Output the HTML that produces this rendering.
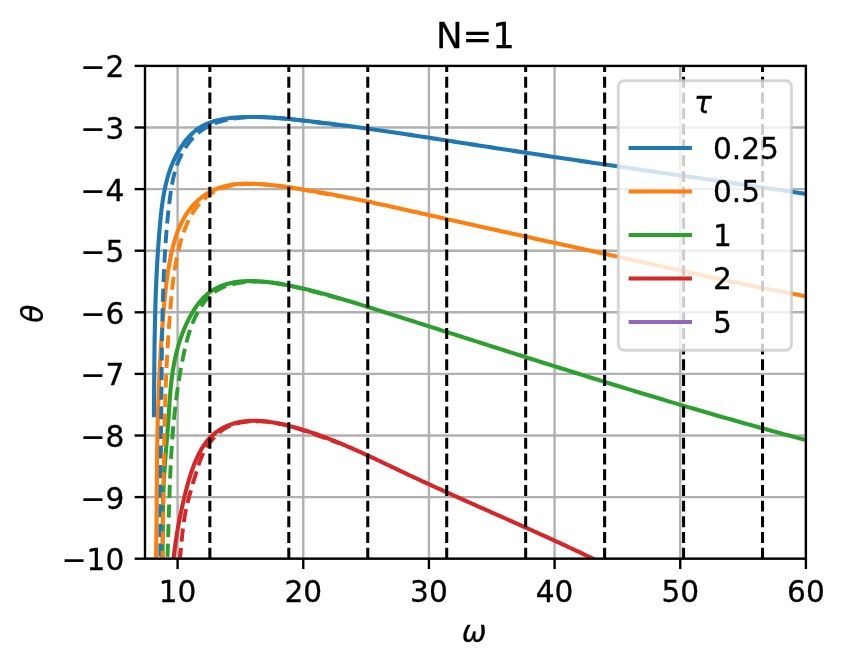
<!DOCTYPE html>
<html lang="en"><head><meta charset="utf-8"><title>N=1</title>
<style>html,body{margin:0;padding:0;background:#fff}svg{display:block}text{font-family:"DejaVu Sans","Liberation Sans",sans-serif;fill:#000;stroke:#000;stroke-width:0.3px}.t{font-size:29.63px}.tt{font-size:35.56px}.i{font-style:italic}</style></head><body>
<svg width="846" height="670" viewBox="0 0 846 670">
<rect width="846" height="670" fill="#fff"/>
<defs><clipPath id="ax"><rect x="145.0" y="65.9" width="660.90" height="492.80"/></clipPath></defs>
<g stroke="#b0b0b0" stroke-width="2.37" clip-path="url(#ax)">
<line x1="177.60" x2="177.60" y1="65.9" y2="558.7"/>
<line x1="303.26" x2="303.26" y1="65.9" y2="558.7"/>
<line x1="428.92" x2="428.92" y1="65.9" y2="558.7"/>
<line x1="554.58" x2="554.58" y1="65.9" y2="558.7"/>
<line x1="680.24" x2="680.24" y1="65.9" y2="558.7"/>
<line x1="805.90" x2="805.90" y1="65.9" y2="558.7"/>
<line x1="145.0" x2="805.9" y1="558.70" y2="558.70"/>
<line x1="145.0" x2="805.9" y1="497.10" y2="497.10"/>
<line x1="145.0" x2="805.9" y1="435.50" y2="435.50"/>
<line x1="145.0" x2="805.9" y1="373.90" y2="373.90"/>
<line x1="145.0" x2="805.9" y1="312.30" y2="312.30"/>
<line x1="145.0" x2="805.9" y1="250.70" y2="250.70"/>
<line x1="145.0" x2="805.9" y1="189.10" y2="189.10"/>
<line x1="145.0" x2="805.9" y1="127.50" y2="127.50"/>
<line x1="145.0" x2="805.9" y1="65.90" y2="65.90"/>
</g>
<g fill="none" stroke-width="4.10" stroke-linejoin="round" clip-path="url(#ax)">
<path stroke="#1f77b4" stroke-linecap="square" d="M153.93 415.25 L153.96 411.69 L153.99 408.12 L154.01 404.56 L154.04 400.99 L154.07 397.43 L154.09 393.88 L154.12 390.32 L154.14 386.76 L154.17 383.21 L154.19 379.66 L154.22 376.11 L154.25 372.56 L154.28 369.01 L154.31 365.46 L154.35 361.92 L154.39 358.37 L154.43 354.83 L154.47 351.29 L154.51 347.75 L154.56 344.21 L154.62 340.66 L154.67 337.13 L154.73 333.59 L154.80 330.05 L154.87 326.51 L154.94 322.97 L155.02 319.43 L155.11 315.90 L155.20 312.36 L155.29 308.82 L155.40 305.29 L155.51 301.75 L155.62 298.21 L155.74 294.67 L155.87 291.14 L156.01 287.60 L156.16 284.06 L156.31 280.52 L156.47 276.98 L156.64 273.44 L156.82 269.90 L157.01 266.36 L157.21 262.82 L157.41 259.28 L157.63 255.73 L157.86 252.19 L158.09 248.64 L158.34 245.09 L158.60 241.54 L158.87 237.99 L159.15 234.44 L159.44 230.89 L159.74 227.34 L160.06 223.78 L160.39 220.23 L160.74 216.67 L161.12 213.12 L161.53 209.57 L161.97 206.04 L162.45 202.51 L162.97 198.99 L163.55 195.49 L164.18 192.01 L164.88 188.54 L165.64 185.09 L166.47 181.66 L167.37 178.26 L168.36 174.89 L169.43 171.54 L170.59 168.23 L171.85 164.94 L173.21 161.69 L174.67 158.48 L176.25 155.31 L177.94 152.17 L179.75 149.09 L181.68 146.06 L183.74 143.12 L185.92 140.28 L188.23 137.55 L190.66 134.97 L193.23 132.54 L195.91 130.28 L198.73 128.22 L201.68 126.36 L204.76 124.74 L207.96 123.32 L211.25 122.10 L214.62 121.06 L218.06 120.17 L221.55 119.42 L225.07 118.80 L228.61 118.28 L232.16 117.87 L235.72 117.54 L239.30 117.29 L242.87 117.12 L246.45 117.02 L250.03 116.97 L253.60 116.98 L257.17 117.03 L260.73 117.12 L264.29 117.26 L267.83 117.42 L271.38 117.63 L274.92 117.86 L278.45 118.12 L281.98 118.40 L285.51 118.71 L289.04 119.04 L292.56 119.39 L296.08 119.75 L299.60 120.13 L303.12 120.51 L306.64 120.90 L310.15 121.30 L313.67 121.70 L317.19 122.12 L320.70 122.53 L324.22 122.96 L327.73 123.39 L331.25 123.82 L334.76 124.27 L338.28 124.71 L341.79 125.16 L345.31 125.62 L348.82 126.09 L352.33 126.55 L355.84 127.03 L359.36 127.50 L362.87 127.99 L366.38 128.47 L369.89 128.96 L373.40 129.46 L376.91 129.96 L380.42 130.46 L383.93 130.97 L387.44 131.48 L390.95 131.99 L394.46 132.50 L397.97 133.02 L401.48 133.55 L404.99 134.07 L408.50 134.60 L412.01 135.13 L415.52 135.66 L419.02 136.19 L422.53 136.73 L426.04 137.27 L429.55 137.81 L433.06 138.35 L436.56 138.89 L440.07 139.43 L443.58 139.98 L447.09 140.52 L450.59 141.07 L454.10 141.61 L457.61 142.16 L461.11 142.71 L464.62 143.26 L468.13 143.80 L471.63 144.35 L475.14 144.90 L478.65 145.44 L482.16 145.99 L485.66 146.53 L489.17 147.08 L492.68 147.62 L496.18 148.16 L499.69 148.70 L503.20 149.24 L506.71 149.78 L510.21 150.32 L513.72 150.85 L517.23 151.39 L520.73 151.92 L524.24 152.45 L527.75 152.99 L531.26 153.52 L534.77 154.05 L538.27 154.58 L541.78 155.10 L545.29 155.63 L548.80 156.16 L552.30 156.68 L555.81 157.21 L559.32 157.73 L562.83 158.25 L566.34 158.77 L569.84 159.30 L573.35 159.82 L576.86 160.34 L580.37 160.86 L583.88 161.37 L587.38 161.89 L590.89 162.41 L594.40 162.93 L597.91 163.44 L601.42 163.96 L604.93 164.47 L608.43 164.99 L611.94 165.50 L615.45 166.02 L618.96 166.53 L622.47 167.04 L625.98 167.56 L629.49 168.07 L633.00 168.58 L636.50 169.09 L640.01 169.60 L643.52 170.11 L647.03 170.62 L650.54 171.13 L654.05 171.64 L657.56 172.16 L661.07 172.67 L664.58 173.17 L668.09 173.68 L671.59 174.19 L675.10 174.70 L678.61 175.21 L682.12 175.72 L685.63 176.23 L689.14 176.74 L692.65 177.25 L696.16 177.76 L699.67 178.27 L703.18 178.78 L706.69 179.29 L710.20 179.80 L713.71 180.31 L717.22 180.82 L720.73 181.33 L724.24 181.84 L727.75 182.36 L731.26 182.87 L734.77 183.38 L738.28 183.89 L741.79 184.41 L745.30 184.92 L748.81 185.43 L752.32 185.95 L755.83 186.46 L759.34 186.98 L762.85 187.49 L766.36 188.01 L769.87 188.52 L773.38 189.04 L776.89 189.56 L780.40 190.08 L783.91 190.59 L787.42 191.11 L790.93 191.63 L794.44 192.16 L797.96 192.68 L801.47 193.20 L804.98 193.72 L808.49 194.25 L812.00 194.77"/>
<path stroke="#ff7f0e" stroke-linecap="square" d="M155.74 566.39 L155.84 562.52 L155.94 558.65 L156.03 554.78 L156.11 550.91 L156.19 547.03 L156.25 543.16 L156.32 539.29 L156.38 535.41 L156.43 531.54 L156.48 527.66 L156.52 523.79 L156.56 519.91 L156.60 516.03 L156.64 512.16 L156.67 508.28 L156.70 504.40 L156.73 500.53 L156.76 496.65 L156.79 492.77 L156.81 488.89 L156.84 485.02 L156.87 481.14 L156.90 477.26 L156.93 473.38 L156.97 469.51 L157.00 465.63 L157.04 461.75 L157.09 457.88 L157.13 454.00 L157.18 450.12 L157.24 446.25 L157.30 442.37 L157.37 438.50 L157.44 434.62 L157.52 430.75 L157.60 426.87 L157.69 423.00 L157.79 419.13 L157.89 415.26 L158.00 411.38 L158.12 407.51 L158.25 403.64 L158.38 399.77 L158.52 395.90 L158.67 392.03 L158.82 388.16 L158.98 384.29 L159.15 380.42 L159.33 376.55 L159.51 372.68 L159.71 368.81 L159.91 364.94 L160.12 361.07 L160.34 357.20 L160.56 353.34 L160.80 349.47 L161.04 345.60 L161.29 341.73 L161.55 337.87 L161.83 334.00 L162.10 330.13 L162.39 326.27 L162.69 322.40 L163.00 318.53 L163.32 314.67 L163.64 310.80 L163.98 306.93 L164.33 303.07 L164.69 299.21 L165.08 295.34 L165.48 291.49 L165.91 287.63 L166.37 283.78 L166.86 279.94 L167.38 276.10 L167.94 272.27 L168.54 268.44 L169.19 264.63 L169.88 260.82 L170.62 257.02 L171.42 253.24 L172.27 249.47 L173.19 245.71 L174.18 241.97 L175.28 238.26 L176.49 234.58 L177.82 230.94 L179.29 227.34 L180.92 223.81 L182.69 220.34 L184.61 216.95 L186.69 213.65 L188.93 210.45 L191.34 207.38 L193.90 204.44 L196.62 201.65 L199.49 199.05 L202.50 196.64 L205.65 194.45 L208.93 192.47 L212.33 190.70 L215.83 189.13 L219.42 187.77 L223.08 186.61 L226.82 185.65 L230.62 184.90 L234.45 184.34 L238.32 183.96 L242.22 183.74 L246.12 183.66 L250.03 183.69 L253.93 183.80 L257.82 183.99 L261.70 184.24 L265.58 184.55 L269.44 184.92 L273.30 185.33 L277.15 185.79 L281.00 186.28 L284.84 186.79 L288.68 187.34 L292.52 187.89 L296.35 188.47 L300.18 189.06 L304.01 189.66 L307.84 190.28 L311.66 190.91 L315.48 191.56 L319.30 192.22 L323.11 192.89 L326.93 193.58 L330.74 194.27 L334.54 194.98 L338.35 195.70 L342.16 196.43 L345.96 197.17 L349.76 197.92 L353.56 198.68 L357.36 199.44 L361.15 200.22 L364.95 201.00 L368.74 201.79 L372.53 202.59 L376.32 203.40 L380.11 204.21 L383.90 205.03 L387.69 205.85 L391.47 206.68 L395.26 207.51 L399.04 208.35 L402.83 209.19 L406.61 210.03 L410.39 210.88 L414.18 211.73 L417.96 212.58 L421.74 213.43 L425.52 214.28 L429.30 215.14 L433.09 215.99 L436.87 216.85 L440.65 217.70 L444.43 218.55 L448.21 219.41 L451.99 220.26 L455.78 221.10 L459.56 221.95 L463.34 222.80 L467.12 223.64 L470.91 224.48 L474.69 225.32 L478.48 226.16 L482.26 227.00 L486.04 227.84 L489.83 228.68 L493.61 229.51 L497.40 230.35 L501.18 231.18 L504.97 232.01 L508.75 232.84 L512.54 233.68 L516.32 234.51 L520.11 235.34 L523.90 236.16 L527.68 236.99 L531.47 237.82 L535.25 238.65 L539.04 239.47 L542.83 240.30 L546.61 241.13 L550.40 241.95 L554.19 242.78 L557.97 243.60 L561.76 244.43 L565.55 245.25 L569.33 246.08 L573.12 246.90 L576.90 247.73 L580.69 248.55 L584.48 249.38 L588.26 250.20 L592.05 251.03 L595.84 251.85 L599.62 252.68 L603.41 253.51 L607.19 254.34 L610.98 255.16 L614.77 255.99 L618.55 256.82 L622.34 257.65 L626.12 258.48 L629.91 259.31 L633.69 260.15 L637.48 260.98 L641.26 261.81 L645.05 262.65 L648.83 263.49 L652.61 264.32 L656.40 265.16 L660.18 266.00 L663.96 266.84 L667.75 267.68 L671.53 268.52 L675.31 269.36 L679.10 270.20 L682.88 271.04 L686.67 271.88 L690.45 272.71 L694.24 273.55 L698.02 274.38 L701.81 275.21 L705.59 276.04 L709.38 276.87 L713.16 277.69 L716.95 278.51 L720.74 279.33 L724.53 280.14 L728.32 280.95 L732.11 281.76 L735.90 282.56 L739.70 283.36 L743.49 284.15 L747.28 284.93 L751.08 285.72 L754.88 286.49 L758.68 287.26 L762.47 288.02 L766.28 288.78 L770.08 289.53 L773.88 290.27 L777.69 291.00 L781.49 291.73 L785.30 292.45 L789.11 293.16 L792.92 293.87 L796.74 294.56 L800.55 295.25 L804.37 295.92 L808.19 296.59 L812.01 297.25"/>
<path stroke="#2ca02c" stroke-linecap="square" d="M162.17 566.45 L162.28 562.93 L162.37 559.41 L162.44 555.89 L162.50 552.36 L162.56 548.84 L162.60 545.32 L162.64 541.80 L162.67 538.27 L162.69 534.75 L162.72 531.22 L162.74 527.70 L162.77 524.17 L162.80 520.65 L162.83 517.12 L162.87 513.60 L162.92 510.07 L162.98 506.55 L163.05 503.03 L163.13 499.50 L163.23 495.98 L163.34 492.46 L163.47 488.94 L163.63 485.42 L163.80 481.90 L163.99 478.39 L164.20 474.87 L164.43 471.35 L164.67 467.84 L164.92 464.32 L165.18 460.81 L165.46 457.30 L165.73 453.79 L166.02 450.27 L166.31 446.76 L166.59 443.25 L166.88 439.74 L167.17 436.23 L167.45 432.72 L167.73 429.20 L167.99 425.69 L168.25 422.18 L168.50 418.66 L168.73 415.15 L168.96 411.63 L169.18 408.11 L169.41 404.60 L169.65 401.08 L169.90 397.57 L170.17 394.05 L170.46 390.54 L170.79 387.04 L171.16 383.53 L171.56 380.03 L172.01 376.53 L172.50 373.04 L173.04 369.56 L173.63 366.09 L174.27 362.63 L174.97 359.19 L175.72 355.76 L176.54 352.34 L177.42 348.94 L178.37 345.55 L179.38 342.19 L180.47 338.85 L181.63 335.53 L182.87 332.23 L184.19 328.95 L185.59 325.71 L187.08 322.49 L188.65 319.30 L190.32 316.14 L192.08 313.02 L193.94 309.97 L195.91 307.00 L197.99 304.12 L200.18 301.36 L202.50 298.74 L204.95 296.27 L207.53 293.98 L210.26 291.87 L213.12 289.97 L216.12 288.27 L219.23 286.77 L222.45 285.46 L225.75 284.34 L229.13 283.40 L232.58 282.63 L236.07 282.04 L239.60 281.60 L243.15 281.30 L246.72 281.13 L250.28 281.07 L253.84 281.10 L257.38 281.23 L260.92 281.44 L264.44 281.73 L267.96 282.10 L271.47 282.53 L274.96 283.02 L278.45 283.56 L281.93 284.15 L285.40 284.79 L288.87 285.46 L292.32 286.16 L295.77 286.89 L299.21 287.65 L302.65 288.43 L306.07 289.24 L309.49 290.07 L312.91 290.93 L316.32 291.81 L319.72 292.70 L323.12 293.62 L326.51 294.55 L329.90 295.50 L333.29 296.46 L336.67 297.44 L340.05 298.43 L343.42 299.44 L346.79 300.45 L350.16 301.47 L353.53 302.50 L356.90 303.54 L360.26 304.59 L363.62 305.63 L366.99 306.68 L370.35 307.74 L373.71 308.79 L377.07 309.85 L380.43 310.91 L383.79 311.97 L387.15 313.03 L390.51 314.09 L393.87 315.15 L397.23 316.22 L400.59 317.28 L403.94 318.35 L407.30 319.41 L410.66 320.48 L414.02 321.55 L417.37 322.62 L420.73 323.69 L424.09 324.76 L427.45 325.83 L430.80 326.90 L434.16 327.97 L437.52 329.04 L440.87 330.11 L444.23 331.18 L447.59 332.25 L450.94 333.33 L454.30 334.40 L457.66 335.47 L461.01 336.54 L464.37 337.61 L467.73 338.68 L471.08 339.75 L474.44 340.83 L477.80 341.90 L481.15 342.97 L484.51 344.04 L487.87 345.11 L491.22 346.18 L494.58 347.25 L497.94 348.32 L501.30 349.39 L504.65 350.46 L508.01 351.52 L511.37 352.59 L514.73 353.66 L518.09 354.72 L521.44 355.79 L524.80 356.86 L528.16 357.92 L531.52 358.98 L534.88 360.05 L538.24 361.11 L541.60 362.17 L544.96 363.23 L548.32 364.29 L551.68 365.35 L555.04 366.41 L558.40 367.47 L561.76 368.52 L565.12 369.58 L568.49 370.63 L571.85 371.68 L575.21 372.74 L578.57 373.79 L581.94 374.84 L585.30 375.89 L588.66 376.93 L592.03 377.98 L595.39 379.02 L598.76 380.07 L602.12 381.11 L605.49 382.15 L608.86 383.19 L612.22 384.22 L615.59 385.26 L618.96 386.29 L622.33 387.33 L625.70 388.36 L629.07 389.39 L632.44 390.41 L635.81 391.44 L639.18 392.46 L642.55 393.49 L645.92 394.51 L649.29 395.53 L652.67 396.54 L656.04 397.56 L659.41 398.57 L662.79 399.58 L666.16 400.59 L669.54 401.60 L672.92 402.60 L676.29 403.61 L679.67 404.61 L683.05 405.61 L686.43 406.60 L689.81 407.60 L693.19 408.59 L696.57 409.58 L699.95 410.57 L703.34 411.55 L706.72 412.53 L710.10 413.51 L713.49 414.49 L716.87 415.47 L720.26 416.44 L723.65 417.41 L727.03 418.38 L730.42 419.34 L733.81 420.30 L737.20 421.26 L740.59 422.22 L743.99 423.17 L747.38 424.13 L750.77 425.07 L754.17 426.02 L757.56 426.96 L760.96 427.90 L764.36 428.84 L767.75 429.77 L771.15 430.70 L774.55 431.63 L777.95 432.56 L781.35 433.48 L784.76 434.40 L788.16 435.31 L791.56 436.22 L794.97 437.13 L798.38 438.04 L801.78 438.94 L805.19 439.84 L808.60 440.73 L812.01 441.62"/>
<path stroke="#d62728" stroke-linecap="square" d="M172.99 566.14 L173.17 563.94 L173.35 561.74 L173.56 559.55 L173.77 557.36 L174.00 555.17 L174.25 552.98 L174.50 550.80 L174.77 548.62 L175.05 546.45 L175.34 544.27 L175.64 542.10 L175.96 539.94 L176.29 537.77 L176.62 535.61 L176.97 533.45 L177.33 531.29 L177.70 529.13 L178.09 526.98 L178.48 524.83 L178.88 522.68 L179.29 520.53 L179.71 518.39 L180.14 516.24 L180.59 514.10 L181.03 511.96 L181.49 509.82 L181.96 507.68 L182.44 505.55 L182.92 503.41 L183.41 501.28 L183.91 499.14 L184.42 497.01 L184.94 494.88 L185.46 492.75 L186.00 490.62 L186.54 488.50 L187.11 486.37 L187.68 484.25 L188.27 482.14 L188.89 480.03 L189.52 477.92 L190.17 475.82 L190.84 473.73 L191.54 471.64 L192.26 469.56 L193.01 467.49 L193.79 465.43 L194.60 463.37 L195.44 461.33 L196.32 459.29 L197.23 457.27 L198.17 455.27 L199.16 453.29 L200.20 451.34 L201.28 449.42 L202.41 447.53 L203.59 445.69 L204.83 443.89 L206.13 442.14 L207.49 440.45 L208.91 438.81 L210.40 437.24 L211.96 435.74 L213.59 434.30 L215.27 432.93 L217.02 431.64 L218.81 430.41 L220.66 429.26 L222.55 428.18 L224.48 427.17 L226.44 426.23 L228.44 425.38 L230.46 424.59 L232.50 423.89 L234.57 423.26 L236.64 422.71 L238.74 422.23 L240.85 421.82 L242.97 421.48 L245.11 421.21 L247.25 421.00 L249.41 420.85 L251.58 420.76 L253.75 420.72 L255.94 420.74 L258.13 420.81 L260.32 420.93 L262.52 421.10 L264.73 421.31 L266.94 421.57 L269.14 421.86 L271.35 422.19 L273.56 422.56 L275.77 422.96 L277.97 423.38 L280.18 423.84 L282.37 424.32 L284.57 424.82 L286.75 425.35 L288.93 425.89 L291.10 426.45 L293.26 427.02 L295.42 427.61 L297.56 428.21 L299.70 428.83 L301.84 429.46 L303.96 430.11 L306.08 430.77 L308.19 431.44 L310.29 432.12 L312.39 432.82 L314.48 433.53 L316.56 434.25 L318.64 434.98 L320.71 435.72 L322.77 436.48 L324.83 437.24 L326.89 438.02 L328.94 438.80 L330.98 439.59 L333.02 440.40 L335.06 441.21 L337.09 442.03 L339.11 442.86 L341.14 443.70 L343.15 444.55 L345.17 445.40 L347.18 446.26 L349.18 447.13 L351.19 448.00 L353.19 448.88 L355.18 449.77 L357.18 450.66 L359.17 451.56 L361.16 452.46 L363.14 453.37 L365.13 454.28 L367.11 455.19 L369.09 456.11 L371.07 457.04 L373.05 457.96 L375.02 458.89 L377.00 459.82 L378.97 460.76 L380.94 461.69 L382.92 462.63 L384.89 463.56 L386.86 464.50 L388.83 465.44 L390.80 466.38 L392.77 467.32 L394.75 468.26 L396.72 469.20 L398.69 470.14 L400.67 471.08 L402.64 472.01 L404.62 472.95 L406.60 473.88 L408.57 474.81 L410.56 475.74 L412.54 476.66 L414.52 477.59 L416.50 478.51 L418.49 479.43 L420.48 480.35 L422.46 481.27 L424.45 482.19 L426.44 483.10 L428.43 484.01 L430.42 484.93 L432.41 485.84 L434.41 486.75 L436.40 487.66 L438.40 488.56 L440.39 489.47 L442.39 490.37 L444.39 491.28 L446.38 492.18 L448.38 493.08 L450.38 493.98 L452.38 494.88 L454.38 495.78 L456.38 496.68 L458.39 497.58 L460.39 498.47 L462.39 499.37 L464.40 500.26 L466.40 501.16 L468.40 502.05 L470.41 502.95 L472.41 503.84 L474.42 504.73 L476.42 505.62 L478.43 506.52 L480.43 507.41 L482.44 508.30 L484.45 509.19 L486.45 510.08 L488.46 510.97 L490.47 511.87 L492.47 512.76 L494.48 513.65 L496.49 514.54 L498.49 515.43 L500.50 516.32 L502.51 517.22 L504.51 518.11 L506.52 519.00 L508.53 519.89 L510.53 520.79 L512.54 521.68 L514.54 522.57 L516.55 523.47 L518.55 524.37 L520.56 525.26 L522.56 526.16 L524.57 527.06 L526.57 527.95 L528.57 528.85 L530.57 529.75 L532.58 530.65 L534.58 531.56 L536.58 532.46 L538.58 533.36 L540.58 534.27 L542.58 535.17 L544.57 536.08 L546.57 536.99 L548.57 537.90 L550.56 538.81 L552.56 539.72 L554.55 540.64 L556.54 541.55 L558.54 542.47 L560.53 543.39 L562.52 544.31 L564.51 545.23 L566.50 546.15 L568.48 547.08 L570.47 548.01 L572.45 548.94 L574.44 549.87 L576.42 550.80 L578.40 551.73 L580.38 552.67 L582.36 553.61 L584.34 554.55 L586.32 555.49 L588.29 556.44 L590.26 557.38 L592.24 558.33 L594.21 559.28 L596.18 560.24 L598.14 561.20 L600.11 562.15 L602.08 563.12 L604.04 564.08 L606.00 565.05 L607.96 566.02"/>
<path stroke="#1f77b4" stroke-width="3.9" stroke-dasharray="13.15 6.45" stroke-dashoffset="9.75" d="M160.31 566.41 L160.32 564.14 L160.32 561.87 L160.32 559.61 L160.32 557.34 L160.33 555.07 L160.33 552.80 L160.34 550.53 L160.34 548.27 L160.35 546.00 L160.35 543.73 L160.36 541.46 L160.37 539.20 L160.38 536.93 L160.38 534.66 L160.39 532.40 L160.40 530.13 L160.41 527.86 L160.42 525.60 L160.43 523.33 L160.44 521.07 L160.45 518.80 L160.46 516.54 L160.47 514.27 L160.48 512.00 L160.49 509.74 L160.51 507.47 L160.52 505.21 L160.53 502.94 L160.55 500.68 L160.56 498.41 L160.57 496.15 L160.59 493.88 L160.60 491.62 L160.62 489.35 L160.63 487.09 L160.65 484.83 L160.66 482.56 L160.68 480.30 L160.69 478.03 L160.71 475.77 L160.73 473.50 L160.74 471.24 L160.76 468.98 L160.78 466.71 L160.80 464.45 L160.82 462.18 L160.83 459.92 L160.85 457.65 L160.87 455.39 L160.89 453.13 L160.91 450.86 L160.93 448.60 L160.95 446.33 L160.97 444.07 L160.99 441.80 L161.01 439.54 L161.03 437.28 L161.05 435.01 L161.07 432.75 L161.09 430.48 L161.11 428.22 L161.13 425.95 L161.15 423.69 L161.17 421.42 L161.19 419.16 L161.22 416.90 L161.24 414.63 L161.26 412.37 L161.28 410.10 L161.30 407.84 L161.33 405.57 L161.35 403.31 L161.37 401.04 L161.39 398.77 L161.41 396.51 L161.44 394.24 L161.46 391.98 L161.48 389.71 L161.50 387.45 L161.53 385.18 L161.55 382.91 L161.57 380.65 L161.60 378.38 L161.62 376.12 L161.64 373.85 L161.66 371.58 L161.69 369.31 L161.71 367.05 L161.73 364.78 L161.76 362.51 L161.78 360.25 L161.81 357.98 L161.83 355.71 L161.86 353.44 L161.89 351.18 L161.91 348.91 L161.94 346.64 L161.97 344.37 L162.00 342.11 L162.04 339.84 L162.07 337.57 L162.10 335.30 L162.14 333.04 L162.18 330.77 L162.22 328.50 L162.26 326.24 L162.30 323.97 L162.34 321.70 L162.39 319.43 L162.44 317.17 L162.49 314.90 L162.54 312.64 L162.59 310.37 L162.65 308.10 L162.71 305.84 L162.77 303.57 L162.84 301.31 L162.90 299.04 L162.97 296.78 L163.04 294.51 L163.12 292.25 L163.20 289.98 L163.28 287.72 L163.36 285.46 L163.45 283.19 L163.54 280.93 L163.63 278.67 L163.73 276.41 L163.83 274.15 L163.93 271.88 L164.04 269.62 L164.15 267.36 L164.27 265.10 L164.38 262.84 L164.51 260.58 L164.63 258.33 L164.77 256.07 L164.90 253.81 L165.04 251.55 L165.18 249.30 L165.33 247.04 L165.48 244.78 L165.64 242.53 L165.80 240.27 L165.97 238.02 L166.14 235.76 L166.32 233.51 L166.50 231.26 L166.68 229.01 L166.88 226.76 L167.07 224.50 L167.28 222.25 L167.49 220.00 L167.70 217.75 L167.93 215.50 L168.16 213.25 L168.40 211.00 L168.64 208.75 L168.90 206.50 L169.16 204.25 L169.44 202.00 L169.72 199.75 L170.01 197.49 L170.31 195.24 L170.63 192.99 L170.96 190.74 L171.31 188.49 L171.69 186.25 L172.09 184.01 L172.51 181.77 L172.97 179.55 L173.47 177.33 L174.00 175.11 L174.57 172.91 L175.18 170.72 L175.84 168.54 L176.55 166.37 L177.31 164.21 L178.13 162.07 L179.00 159.94 L179.93 157.83 L180.91 155.75 L181.95 153.69 L183.05 151.67 L184.20 149.68 L185.40 147.73 L186.66 145.82 L187.98 143.96 L189.35 142.14 L190.77 140.38 L192.25 138.68 L193.78 137.04 L195.37 135.47 L197.00 133.96 L198.69 132.52 L200.44 131.17 L202.23 129.89 L204.08 128.68 L205.97 127.55 L207.90 126.50 L209.88 125.51 L211.90 124.59 L213.95 123.73 L216.04 122.94 L218.16 122.21 L220.31 121.54 L222.49 120.92 L224.69 120.36 L226.92 119.86 L229.17 119.40 L231.43 118.99 L233.71 118.63 L236.00 118.31 L238.30 118.03 L240.61 117.80 L242.93 117.60 L245.25 117.43 L247.57 117.30 L249.89 117.20 L252.20 117.13 L254.51 117.09 L256.81 117.07 L259.10 117.07 L261.38 117.10 L263.66 117.15 L265.93 117.22 L268.20 117.31 L270.46 117.42 L272.71 117.55 L274.96 117.70 L277.21 117.86 L279.45 118.04 L281.68 118.23 L283.92 118.43 L286.15 118.65 L288.38 118.88 L290.61 119.12 L292.84 119.37 L295.06 119.63 L297.29 119.90 L299.51 120.17 L301.74 120.45 L303.96 120.74 L306.19 121.03 L308.42 121.32 L310.65 121.61 L312.88 121.91 L315.12 122.20 L317.35 122.49 L319.60 122.79 L321.84 123.08 L324.09 123.36 L326.35 123.64 L328.61 123.92 L330.87 124.19 L333.14 124.45 L335.42 124.70 L337.71 124.94 L340.00 125.18"/>
<path stroke="#ff7f0e" stroke-width="3.9" stroke-dasharray="13.15 6.45" stroke-dashoffset="-2.45" d="M162.43 566.38 L162.46 564.39 L162.50 562.41 L162.53 560.42 L162.56 558.43 L162.59 556.45 L162.63 554.46 L162.66 552.47 L162.69 550.48 L162.72 548.50 L162.74 546.51 L162.77 544.52 L162.80 542.53 L162.83 540.54 L162.85 538.55 L162.88 536.56 L162.91 534.57 L162.93 532.59 L162.96 530.60 L162.98 528.61 L163.01 526.62 L163.03 524.63 L163.06 522.64 L163.08 520.65 L163.10 518.66 L163.13 516.67 L163.15 514.68 L163.17 512.69 L163.20 510.70 L163.22 508.71 L163.25 506.72 L163.27 504.72 L163.29 502.73 L163.32 500.74 L163.34 498.75 L163.36 496.76 L163.39 494.77 L163.41 492.78 L163.44 490.79 L163.46 488.80 L163.49 486.80 L163.51 484.81 L163.54 482.82 L163.56 480.83 L163.59 478.84 L163.62 476.85 L163.64 474.86 L163.67 472.86 L163.70 470.87 L163.73 468.88 L163.76 466.89 L163.79 464.90 L163.82 462.91 L163.85 460.91 L163.88 458.92 L163.92 456.93 L163.95 454.94 L163.98 452.95 L164.02 450.96 L164.05 448.96 L164.09 446.97 L164.13 444.98 L164.17 442.99 L164.21 441.00 L164.25 439.01 L164.29 437.01 L164.33 435.02 L164.37 433.03 L164.42 431.04 L164.46 429.05 L164.51 427.06 L164.56 425.07 L164.61 423.08 L164.66 421.08 L164.71 419.09 L164.76 417.10 L164.82 415.11 L164.87 413.12 L164.93 411.13 L164.99 409.14 L165.05 407.15 L165.11 405.16 L165.17 403.17 L165.23 401.18 L165.30 399.19 L165.36 397.20 L165.43 395.21 L165.50 393.22 L165.58 391.23 L165.65 389.24 L165.72 387.25 L165.80 385.26 L165.88 383.27 L165.96 381.28 L166.04 379.30 L166.13 377.31 L166.21 375.32 L166.30 373.33 L166.39 371.34 L166.48 369.35 L166.57 367.37 L166.67 365.38 L166.77 363.39 L166.87 361.40 L166.97 359.42 L167.07 357.43 L167.18 355.44 L167.29 353.46 L167.40 351.47 L167.51 349.48 L167.63 347.50 L167.74 345.51 L167.86 343.53 L167.98 341.54 L168.11 339.56 L168.23 337.57 L168.36 335.59 L168.49 333.60 L168.63 331.62 L168.76 329.63 L168.90 327.65 L169.05 325.67 L169.19 323.68 L169.34 321.70 L169.49 319.72 L169.64 317.74 L169.79 315.75 L169.95 313.77 L170.11 311.79 L170.27 309.81 L170.44 307.83 L170.61 305.85 L170.78 303.87 L170.95 301.89 L171.13 299.91 L171.31 297.93 L171.50 295.95 L171.69 293.97 L171.89 291.99 L172.09 290.02 L172.30 288.04 L172.51 286.06 L172.74 284.09 L172.97 282.12 L173.21 280.15 L173.47 278.17 L173.73 276.20 L174.00 274.24 L174.29 272.27 L174.58 270.31 L174.89 268.34 L175.21 266.38 L175.55 264.42 L175.90 262.46 L176.27 260.51 L176.65 258.55 L177.05 256.60 L177.46 254.65 L177.89 252.70 L178.34 250.76 L178.81 248.81 L179.30 246.87 L179.81 244.94 L180.34 243.00 L180.89 241.07 L181.46 239.14 L182.05 237.21 L182.67 235.29 L183.31 233.38 L183.98 231.47 L184.67 229.58 L185.40 227.70 L186.15 225.83 L186.94 223.98 L187.76 222.15 L188.62 220.34 L189.51 218.55 L190.45 216.79 L191.42 215.05 L192.43 213.34 L193.48 211.66 L194.58 210.01 L195.72 208.40 L196.91 206.82 L198.15 205.28 L199.43 203.78 L200.77 202.32 L202.14 200.90 L203.57 199.53 L205.03 198.21 L206.54 196.95 L208.08 195.73 L209.67 194.57 L211.29 193.47 L212.95 192.42 L214.65 191.44 L216.38 190.52 L218.14 189.67 L219.93 188.89 L221.76 188.17 L223.61 187.53 L225.49 186.95 L227.39 186.43 L229.31 185.97 L231.26 185.57 L233.22 185.23 L235.19 184.93 L237.18 184.68 L239.18 184.47 L241.19 184.30 L243.21 184.17 L245.23 184.08 L247.25 184.02 L249.27 183.98 L251.29 183.97 L253.31 183.98 L255.32 184.02 L257.33 184.07 L259.34 184.15 L261.34 184.24 L263.34 184.36 L265.33 184.49 L267.33 184.64 L269.32 184.81 L271.31 184.99 L273.29 185.19 L275.27 185.41 L277.25 185.63 L279.23 185.88 L281.21 186.13 L283.18 186.40 L285.15 186.67 L287.12 186.96 L289.09 187.26 L291.06 187.57 L293.02 187.89 L294.98 188.21 L296.94 188.54 L298.91 188.88 L300.86 189.22 L302.82 189.57 L304.78 189.93 L306.74 190.28 L308.69 190.64 L310.65 191.01 L312.60 191.37 L314.56 191.74 L316.51 192.10 L318.47 192.47 L320.42 192.83 L322.38 193.20 L324.33 193.56 L326.28 193.91 L328.24 194.27 L330.20 194.62 L332.15 194.96 L334.11 195.30 L336.07 195.63 L338.03 195.96 L339.99 196.27"/>
<path stroke="#2ca02c" stroke-width="3.9" stroke-dasharray="13.15 6.45" stroke-dashoffset="10.0" d="M167.13 566.42 L167.19 564.83 L167.26 563.24 L167.32 561.65 L167.38 560.06 L167.44 558.47 L167.50 556.88 L167.56 555.29 L167.62 553.70 L167.67 552.10 L167.73 550.51 L167.78 548.92 L167.84 547.33 L167.89 545.73 L167.94 544.14 L168.00 542.55 L168.05 540.95 L168.10 539.36 L168.15 537.77 L168.20 536.17 L168.24 534.58 L168.29 532.98 L168.34 531.39 L168.39 529.79 L168.44 528.20 L168.48 526.60 L168.53 525.01 L168.58 523.41 L168.63 521.82 L168.67 520.22 L168.72 518.62 L168.77 517.03 L168.82 515.43 L168.87 513.83 L168.91 512.24 L168.96 510.64 L169.01 509.04 L169.06 507.45 L169.11 505.85 L169.16 504.25 L169.21 502.66 L169.26 501.06 L169.32 499.46 L169.37 497.87 L169.42 496.27 L169.48 494.67 L169.53 493.08 L169.59 491.48 L169.65 489.88 L169.71 488.29 L169.77 486.69 L169.83 485.09 L169.89 483.50 L169.95 481.90 L170.02 480.30 L170.08 478.71 L170.15 477.11 L170.22 475.51 L170.29 473.92 L170.36 472.32 L170.44 470.72 L170.51 469.13 L170.59 467.53 L170.67 465.94 L170.75 464.34 L170.83 462.75 L170.91 461.15 L171.00 459.56 L171.09 457.96 L171.18 456.37 L171.27 454.77 L171.36 453.18 L171.46 451.59 L171.56 449.99 L171.66 448.40 L171.76 446.81 L171.87 445.21 L171.98 443.62 L172.09 442.03 L172.20 440.44 L172.32 438.85 L172.44 437.25 L172.56 435.66 L172.68 434.07 L172.81 432.48 L172.94 430.89 L173.07 429.30 L173.21 427.71 L173.34 426.12 L173.49 424.54 L173.63 422.95 L173.78 421.36 L173.93 419.77 L174.08 418.19 L174.24 416.60 L174.40 415.01 L174.57 413.43 L174.74 411.84 L174.91 410.26 L175.08 408.67 L175.26 407.09 L175.44 405.51 L175.63 403.92 L175.82 402.34 L176.01 400.76 L176.21 399.18 L176.41 397.60 L176.62 396.02 L176.83 394.44 L177.04 392.86 L177.26 391.28 L177.48 389.70 L177.70 388.12 L177.93 386.54 L178.17 384.97 L178.41 383.39 L178.65 381.82 L178.90 380.24 L179.15 378.67 L179.41 377.09 L179.67 375.52 L179.93 373.95 L180.21 372.38 L180.48 370.81 L180.76 369.24 L181.05 367.67 L181.34 366.10 L181.63 364.53 L181.93 362.96 L182.24 361.39 L182.55 359.83 L182.86 358.26 L183.18 356.70 L183.51 355.13 L183.84 353.57 L184.18 352.01 L184.52 350.45 L184.88 348.89 L185.24 347.33 L185.60 345.78 L185.98 344.22 L186.37 342.67 L186.77 341.13 L187.18 339.58 L187.61 338.04 L188.05 336.51 L188.50 334.98 L188.96 333.45 L189.45 331.93 L189.94 330.41 L190.46 328.90 L190.99 327.39 L191.54 325.89 L192.12 324.40 L192.71 322.91 L193.32 321.43 L193.95 319.96 L194.61 318.50 L195.28 317.04 L195.98 315.59 L196.71 314.15 L197.46 312.72 L198.24 311.30 L199.04 309.89 L199.87 308.50 L200.73 307.13 L201.61 305.78 L202.53 304.45 L203.47 303.15 L204.44 301.87 L205.44 300.63 L206.47 299.41 L207.54 298.23 L208.63 297.08 L209.76 295.97 L210.92 294.90 L212.11 293.87 L213.34 292.89 L214.61 291.95 L215.90 291.07 L217.24 290.23 L218.61 289.44 L220.01 288.71 L221.44 288.02 L222.89 287.38 L224.37 286.78 L225.87 286.22 L227.39 285.71 L228.92 285.22 L230.46 284.78 L232.01 284.37 L233.56 283.99 L235.12 283.64 L236.68 283.32 L238.24 283.03 L239.80 282.76 L241.37 282.53 L242.94 282.32 L244.51 282.14 L246.09 281.98 L247.66 281.85 L249.24 281.75 L250.82 281.67 L252.41 281.61 L253.99 281.57 L255.57 281.56 L257.16 281.57 L258.75 281.60 L260.34 281.66 L261.93 281.73 L263.52 281.82 L265.11 281.93 L266.70 282.06 L268.29 282.21 L269.89 282.38 L271.48 282.56 L273.07 282.76 L274.67 282.97 L276.26 283.20 L277.85 283.45 L279.44 283.70 L281.04 283.98 L282.63 284.26 L284.22 284.56 L285.81 284.87 L287.40 285.19 L288.99 285.52 L290.57 285.86 L292.16 286.21 L293.74 286.56 L295.32 286.93 L296.90 287.30 L298.48 287.69 L300.06 288.07 L301.63 288.47 L303.21 288.87 L304.78 289.27 L306.34 289.68 L307.91 290.09 L309.47 290.51 L311.03 290.93 L312.59 291.35 L314.14 291.77 L315.69 292.19 L317.24 292.61 L318.78 293.04 L320.32 293.46 L321.86 293.88 L323.39 294.30 L324.92 294.71 L326.44 295.12 L327.96 295.53 L329.48 295.94 L330.99 296.33 L332.49 296.73 L334.00 297.12 L335.49 297.50 L336.99 297.87 L338.47 298.24 L339.96 298.60"/>
<path stroke="#d62728" stroke-width="3.9" stroke-dasharray="13.15 6.45" stroke-dashoffset="-5.0" d="M178.90 566.07 L179.04 565.05 L179.19 564.03 L179.32 563.01 L179.46 561.98 L179.59 560.96 L179.71 559.93 L179.83 558.90 L179.95 557.87 L180.07 556.85 L180.19 555.81 L180.30 554.78 L180.41 553.75 L180.51 552.72 L180.62 551.69 L180.72 550.65 L180.83 549.62 L180.93 548.58 L181.03 547.55 L181.13 546.51 L181.23 545.48 L181.33 544.44 L181.43 543.41 L181.53 542.37 L181.63 541.33 L181.73 540.30 L181.83 539.26 L181.93 538.22 L182.03 537.19 L182.14 536.15 L182.24 535.12 L182.35 534.08 L182.46 533.05 L182.57 532.01 L182.69 530.98 L182.81 529.94 L182.93 528.91 L183.05 527.88 L183.18 526.85 L183.31 525.82 L183.44 524.79 L183.58 523.76 L183.72 522.73 L183.87 521.70 L184.02 520.67 L184.18 519.65 L184.34 518.63 L184.50 517.60 L184.67 516.58 L184.85 515.56 L185.04 514.54 L185.23 513.53 L185.42 512.51 L185.62 511.49 L185.83 510.48 L186.04 509.47 L186.26 508.46 L186.48 507.45 L186.71 506.44 L186.94 505.43 L187.17 504.42 L187.41 503.42 L187.66 502.41 L187.91 501.41 L188.16 500.41 L188.42 499.40 L188.68 498.40 L188.94 497.40 L189.21 496.40 L189.48 495.40 L189.75 494.40 L190.03 493.40 L190.30 492.40 L190.59 491.40 L190.87 490.41 L191.15 489.41 L191.44 488.41 L191.73 487.41 L192.02 486.42 L192.31 485.42 L192.61 484.42 L192.90 483.43 L193.20 482.43 L193.50 481.43 L193.80 480.44 L194.09 479.44 L194.39 478.44 L194.69 477.44 L194.99 476.45 L195.29 475.45 L195.59 474.45 L195.89 473.45 L196.20 472.45 L196.50 471.46 L196.81 470.46 L197.12 469.47 L197.43 468.47 L197.75 467.48 L198.07 466.49 L198.39 465.51 L198.73 464.52 L199.07 463.54 L199.41 462.56 L199.77 461.59 L200.13 460.62 L200.50 459.66 L200.88 458.70 L201.27 457.74 L201.67 456.79 L202.08 455.85 L202.50 454.91 L202.94 453.98 L203.39 453.05 L203.85 452.13 L204.32 451.22 L204.81 450.32 L205.31 449.42 L205.83 448.53 L206.37 447.65 L206.92 446.78 L207.49 445.92 L208.07 445.07 L208.67 444.22 L209.28 443.38 L209.91 442.55 L210.56 441.73 L211.21 440.92 L211.88 440.12 L212.56 439.32 L213.25 438.53 L213.96 437.75 L214.67 436.97 L215.39 436.21 L216.13 435.46 L216.88 434.72 L217.64 434.00 L218.41 433.29 L219.20 432.60 L219.99 431.93 L220.81 431.27 L221.63 430.64 L222.47 430.03 L223.32 429.45 L224.18 428.89 L225.06 428.35 L225.95 427.83 L226.86 427.34 L227.77 426.88 L228.70 426.43 L229.64 426.00 L230.58 425.60 L231.54 425.22 L232.51 424.86 L233.48 424.52 L234.46 424.19 L235.45 423.89 L236.45 423.61 L237.45 423.34 L238.46 423.09 L239.48 422.86 L240.50 422.65 L241.52 422.45 L242.55 422.27 L243.59 422.10 L244.62 421.95 L245.66 421.82 L246.70 421.69 L247.74 421.59 L248.78 421.49 L249.82 421.41 L250.86 421.34 L251.90 421.29 L252.94 421.24 L253.98 421.21 L255.02 421.19 L256.06 421.18 L257.10 421.19 L258.14 421.20 L259.17 421.23 L260.21 421.26 L261.24 421.31 L262.28 421.36 L263.31 421.43 L264.34 421.51 L265.38 421.60 L266.41 421.69 L267.44 421.80 L268.47 421.92 L269.50 422.04 L270.53 422.18 L271.55 422.32 L272.58 422.47 L273.61 422.63 L274.63 422.80 L275.66 422.98 L276.68 423.16 L277.70 423.36 L278.72 423.56 L279.74 423.77 L280.76 423.98 L281.78 424.20 L282.80 424.43 L283.82 424.67 L284.84 424.91 L285.85 425.16 L286.87 425.41 L287.88 425.68 L288.89 425.94 L289.90 426.22 L290.91 426.49 L291.92 426.78 L292.93 427.07 L293.94 427.36 L294.95 427.66 L295.95 427.96 L296.96 428.27 L297.96 428.58 L298.96 428.90 L299.96 429.22 L300.97 429.54 L301.96 429.87 L302.96 430.20 L303.96 430.53 L304.96 430.87 L305.95 431.21 L306.94 431.55 L307.94 431.89 L308.93 432.24 L309.92 432.59 L310.91 432.94 L311.90 433.29 L312.88 433.65 L313.87 434.00 L314.85 434.36 L315.84 434.72 L316.82 435.08 L317.80 435.44 L318.78 435.80 L319.76 436.16 L320.73 436.52 L321.71 436.88 L322.68 437.24 L323.66 437.60 L324.63 437.96 L325.60 438.32 L326.57 438.68 L327.54 439.03 L328.50 439.39 L329.47 439.74 L330.43 440.10 L331.39 440.45 L332.35 440.79 L333.31 441.14 L334.27 441.49 L335.23 441.83 L336.19 442.17 L337.14 442.50 L338.09 442.84 L339.04 443.17 L339.99 443.49"/>
</g>
<g stroke="#000" stroke-width="3.05" stroke-dasharray="10.96 4.74" clip-path="url(#ax)">
<line x1="209.85" x2="209.85" y1="558.7" y2="65.9"/>
<line x1="288.80" x2="288.80" y1="558.7" y2="65.9"/>
<line x1="367.76" x2="367.76" y1="558.7" y2="65.9"/>
<line x1="446.71" x2="446.71" y1="558.7" y2="65.9"/>
<line x1="525.67" x2="525.67" y1="558.7" y2="65.9"/>
<line x1="604.62" x2="604.62" y1="558.7" y2="65.9"/>
<line x1="683.58" x2="683.58" y1="558.7" y2="65.9"/>
<line x1="762.53" x2="762.53" y1="558.7" y2="65.9"/>
</g>
<rect x="145.0" y="65.9" width="660.90" height="492.80" fill="none" stroke="#000" stroke-width="2.37" stroke-linejoin="miter"/>
<g stroke="#000" stroke-width="2.37">
<line x1="177.60" x2="177.60" y1="558.7" y2="569.07"/>
<line x1="303.26" x2="303.26" y1="558.7" y2="569.07"/>
<line x1="428.92" x2="428.92" y1="558.7" y2="569.07"/>
<line x1="554.58" x2="554.58" y1="558.7" y2="569.07"/>
<line x1="680.24" x2="680.24" y1="558.7" y2="569.07"/>
<line x1="805.90" x2="805.90" y1="558.7" y2="569.07"/>
<line x1="145.0" x2="134.63" y1="558.70" y2="558.70"/>
<line x1="145.0" x2="134.63" y1="497.10" y2="497.10"/>
<line x1="145.0" x2="134.63" y1="435.50" y2="435.50"/>
<line x1="145.0" x2="134.63" y1="373.90" y2="373.90"/>
<line x1="145.0" x2="134.63" y1="312.30" y2="312.30"/>
<line x1="145.0" x2="134.63" y1="250.70" y2="250.70"/>
<line x1="145.0" x2="134.63" y1="189.10" y2="189.10"/>
<line x1="145.0" x2="134.63" y1="127.50" y2="127.50"/>
<line x1="145.0" x2="134.63" y1="65.90" y2="65.90"/>
</g>
<g class="t">
<text x="177.60" y="602.1" text-anchor="middle">10</text>
<text x="303.26" y="602.1" text-anchor="middle">20</text>
<text x="428.92" y="602.1" text-anchor="middle">30</text>
<text x="554.58" y="602.1" text-anchor="middle">40</text>
<text x="680.24" y="602.1" text-anchor="middle">50</text>
<text x="805.90" y="602.1" text-anchor="middle">60</text>
<text x="124.26" y="570.10" text-anchor="end">−10</text>
<text x="124.26" y="508.50" text-anchor="end">−9</text>
<text x="124.26" y="446.90" text-anchor="end">−8</text>
<text x="124.26" y="385.30" text-anchor="end">−7</text>
<text x="124.26" y="323.70" text-anchor="end">−6</text>
<text x="124.26" y="262.10" text-anchor="end">−5</text>
<text x="124.26" y="200.50" text-anchor="end">−4</text>
<text x="124.26" y="138.90" text-anchor="end">−3</text>
<text x="124.26" y="77.30" text-anchor="end">−2</text>
<text class="i" x="474.25" y="641.5" text-anchor="middle">ω</text>
<text class="i" transform="translate(42.9 313.80) rotate(-90)" text-anchor="middle">θ</text>
</g>
<text class="tt" x="475.45" y="48.4" text-anchor="middle">N=1</text>
<rect x="618.30" y="80.71" width="173.10" height="269.49" rx="5.93" fill="#fff" fill-opacity="0.8" stroke="#ccc" stroke-opacity="0.8" stroke-width="2.96"/>
<text class="t i" x="702.85" y="113.2" text-anchor="middle">τ</text>
<g stroke-width="4.10" stroke-linecap="square">
<line x1="630.65" x2="689.91" y1="148.00" y2="148.00" stroke="#1f77b4"/>
<line x1="630.65" x2="689.91" y1="191.50" y2="191.50" stroke="#ff7f0e"/>
<line x1="630.65" x2="689.91" y1="235.00" y2="235.00" stroke="#2ca02c"/>
<line x1="630.65" x2="689.91" y1="278.50" y2="278.50" stroke="#d62728"/>
<line x1="630.65" x2="689.91" y1="322.00" y2="322.00" stroke="#9467bd"/>
</g><g class="t">
<text x="713.01" y="158.50">0.25</text>
<text x="713.01" y="202.00">0.5</text>
<text x="713.01" y="245.50">1</text>
<text x="713.01" y="289.00">2</text>
<text x="713.01" y="332.50">5</text>
</g>
</svg></body></html>
